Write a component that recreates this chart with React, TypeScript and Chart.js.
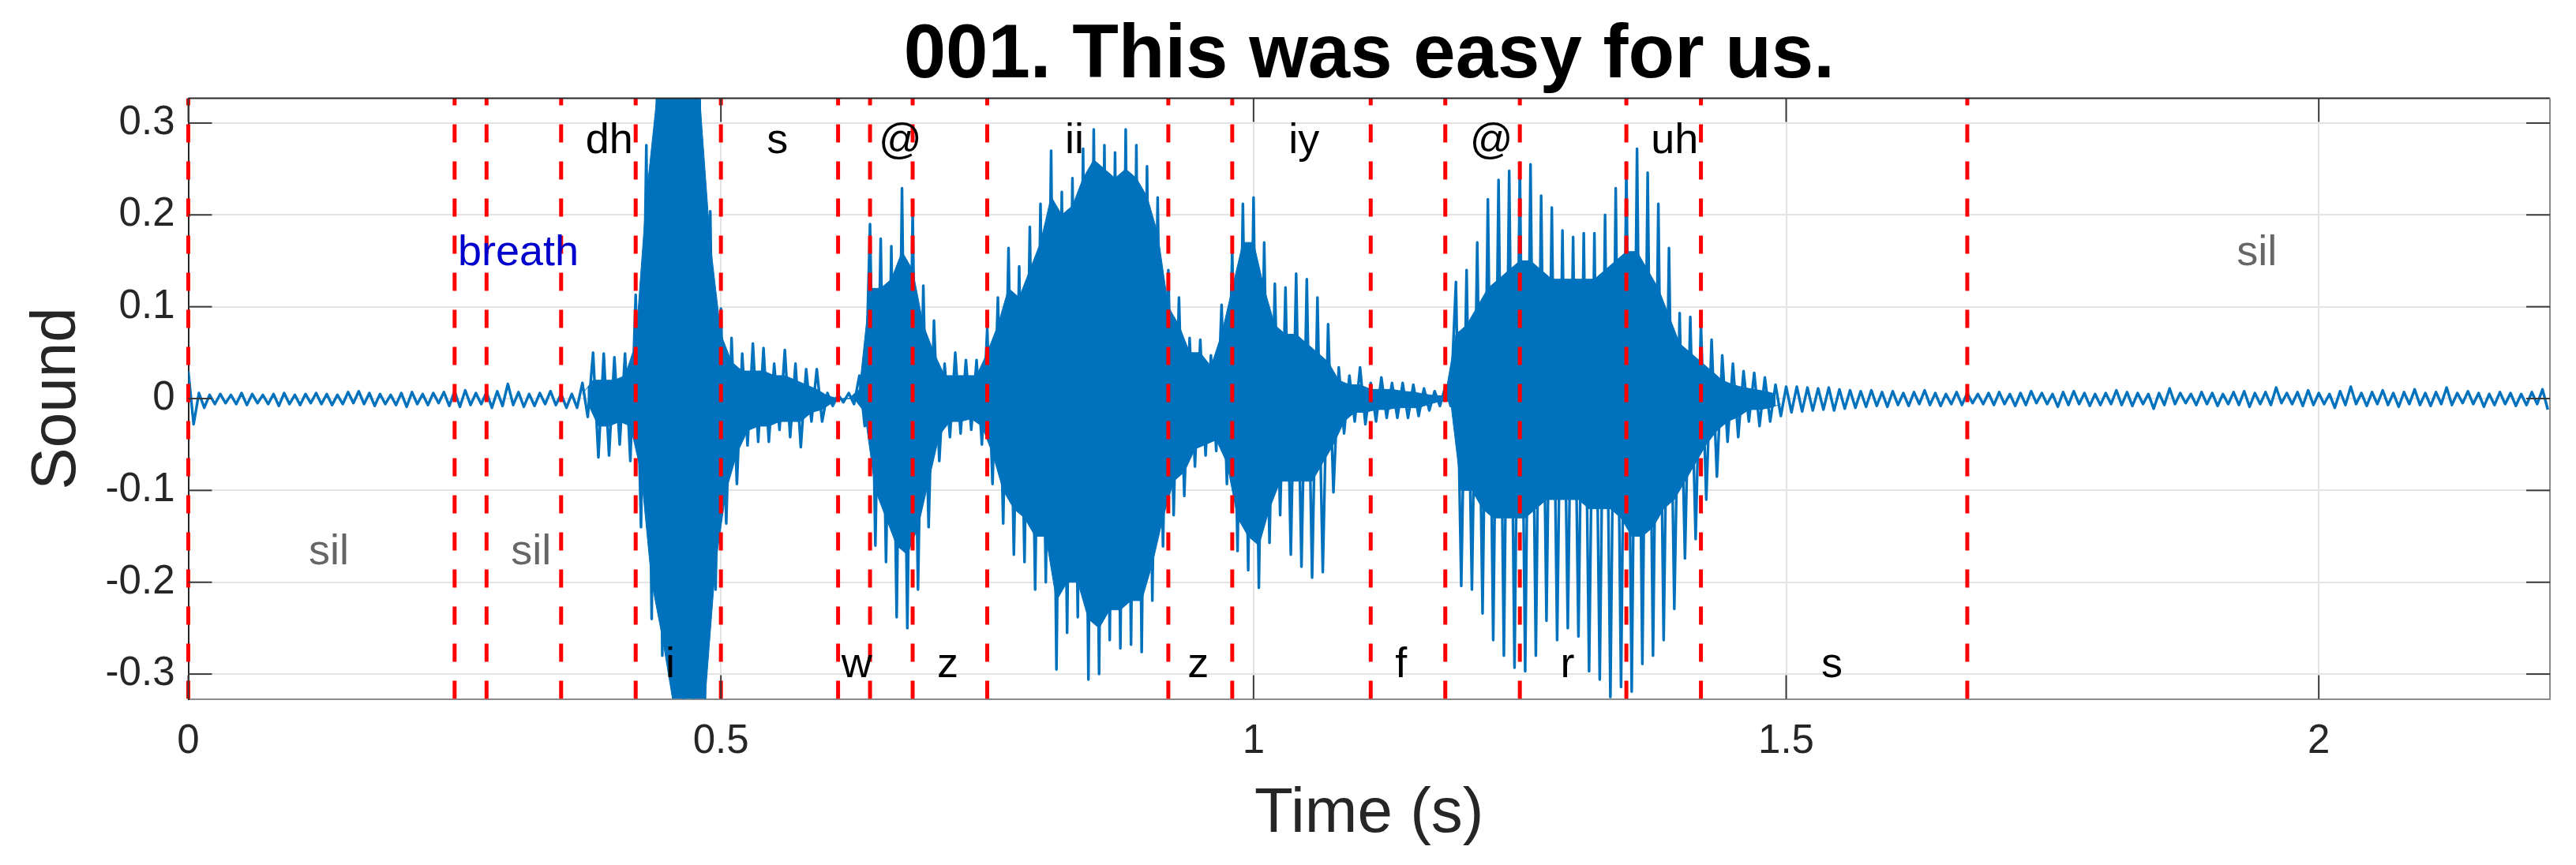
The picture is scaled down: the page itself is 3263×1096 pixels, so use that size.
import React, { useEffect, useRef } from 'react';
import { Chart, registerables } from 'chart.js';

Chart.register(...registerables);

// ---------------- data ----------------
const TITLE = '001. This was easy for us.';
const X_LABEL = 'Time (s)';
const Y_LABEL = 'Sound';
const X_MAX = 2.217;
const Y_LIM = 0.327;

const xTickValues = [0, 0.5, 1, 1.5, 2];
const xTickLabels = ['0', '0.5', '1', '1.5', '2'];
const yTickValues = [-0.3, -0.2, -0.1, 0, 0.1, 0.2, 0.3];
const yTickLabels = ['-0.3', '-0.2', '-0.1', '0', '0.1', '0.2', '0.3'];

// phone segmentation (s)
const segBounds = [0, 0.25, 0.28, 0.35, 0.42, 0.5, 0.61, 0.64, 0.68, 0.75, 0.92, 0.98, 1.11, 1.18, 1.25, 1.35, 1.42, 1.67, 2.2];
const segLabels = ['sil', 'breath', 'sil', 'dh', 'i', 's', 'w', '@', 'z', 'ii', 'z', 'iy', 'f', '@', 'r', 'uh', 's', 'sil'];

// waveform peaks, one max/min pair per 10 ms bin (from t = 0)
const BIN = 0.01;
const envHigh = [
  0.030, 0.006, 0.004, 0.005, 0.004, 0.006, 0.005, 0.004, 0.005, 0.006,
  0.004, 0.005, 0.006, 0.005, 0.004, 0.007, 0.008, 0.006, 0.005, 0.004,
  0.006, 0.007, 0.005, 0.006, 0.007, 0.008, 0.009, 0.006, 0.007, 0.008,
  0.016, 0.007, 0.005, 0.006, 0.008,
  0.005, 0.005, 0.017, 0.050, 0.049, 0.045, 0.049, 0.113, 0.276, 0.330,
  0.330, 0.330, 0.330, 0.330, 0.204, 0.098, 0.066, 0.049, 0.060, 0.055,
  0.038, 0.053, 0.038, 0.032, 0.032, 0.006, 0.004, 0.006, 0.025, 0.190,
  0.174, 0.166, 0.229, 0.204, 0.123, 0.085, 0.038, 0.050, 0.042, 0.042,
  0.076, 0.110, 0.164, 0.144, 0.187,
  0.212, 0.270, 0.225, 0.240, 0.272, 0.293, 0.276, 0.268, 0.293, 0.276,
  0.253, 0.219, 0.140, 0.110, 0.066, 0.064, 0.047, 0.102, 0.161, 0.212,
  0.219, 0.170, 0.125, 0.121, 0.136, 0.130, 0.110, 0.081, 0.034, 0.025,
  0.034, 0.017, 0.023, 0.017, 0.017, 0.015, 0.011, 0.008, 0.013, 0.127,
  0.140, 0.170, 0.217, 0.238, 0.248, 0.257, 0.255, 0.221, 0.208, 0.183,
  0.176, 0.180, 0.180, 0.200, 0.229, 0.257, 0.272, 0.246, 0.212, 0.164,
  0.093, 0.089, 0.081, 0.064, 0.047, 0.038, 0.030, 0.028, 0.023, 0.015,
  0.013, 0.013, 0.012, 0.011, 0.012, 0.010, 0.009, 0.008, 0.009, 0.007,
  0.008, 0.006, 0.007, 0.009, 0.006, 0.005, 0.007, 0.006, 0.005, 0.006,
  0.007, 0.005, 0.006, 0.008, 0.006, 0.005, 0.007, 0.008, 0.006, 0.005,
  0.006, 0.009, 0.007, 0.006, 0.005, 0.006, 0.011, 0.006, 0.005, 0.007,
  0.006, 0.005, 0.007, 0.008, 0.006, 0.007, 0.012, 0.006, 0.007, 0.009,
  0.006, 0.005, 0.008, 0.013, 0.006, 0.007, 0.009, 0.006, 0.007, 0.010,
  0.006, 0.007, 0.012, 0.006, 0.008, 0.006, 0.005, 0.007, 0.006, 0.005,
  0.007, 0.010,
];
const envLow = [
  -0.028, -0.010, -0.006, -0.005, -0.006, -0.007, -0.005, -0.006, -0.008, -0.006,
  -0.007, -0.005, -0.006, -0.007, -0.006, -0.005, -0.006, -0.008, -0.006, -0.007,
  -0.009, -0.006, -0.007, -0.005, -0.008, -0.009, -0.007, -0.006, -0.010, -0.008,
  -0.007, -0.009, -0.008, -0.006, -0.007,
  -0.010, -0.010, -0.020, -0.064, -0.062, -0.050, -0.068, -0.140, -0.240, -0.280,
  -0.320, -0.330, -0.330, -0.330, -0.208, -0.136, -0.093, -0.051, -0.047, -0.047,
  -0.034, -0.042, -0.053, -0.025, -0.025, -0.008, -0.004, -0.006, -0.030, -0.160,
  -0.178, -0.238, -0.250, -0.208, -0.140, -0.068, -0.042, -0.038, -0.034, -0.050,
  -0.093, -0.136, -0.170, -0.178, -0.208,
  -0.200, -0.295, -0.255, -0.238, -0.306, -0.300, -0.263, -0.272, -0.268, -0.276,
  -0.220, -0.161, -0.127, -0.106, -0.074, -0.062, -0.057, -0.093, -0.166, -0.187,
  -0.206, -0.157, -0.127, -0.170, -0.183, -0.195, -0.189, -0.102, -0.038, -0.025,
  -0.028, -0.025, -0.021, -0.021, -0.021, -0.019, -0.013, -0.008, -0.008, -0.204,
  -0.208, -0.234, -0.263, -0.280, -0.293, -0.297, -0.280, -0.242, -0.263, -0.250,
  -0.259, -0.297, -0.306, -0.325, -0.314, -0.319, -0.289, -0.280, -0.263, -0.229,
  -0.174, -0.153, -0.110, -0.085, -0.047, -0.042, -0.025, -0.030, -0.025, -0.019,
  -0.015, -0.014, -0.013, -0.012, -0.013, -0.011, -0.010, -0.009, -0.008, -0.009,
  -0.007, -0.008, -0.006, -0.007, -0.008, -0.006, -0.007, -0.005, -0.006, -0.007,
  -0.006, -0.008, -0.007, -0.005, -0.006, -0.009, -0.007, -0.006, -0.008, -0.007,
  -0.006, -0.007, -0.008, -0.006, -0.011, -0.007, -0.006, -0.005, -0.007, -0.006,
  -0.008, -0.006, -0.007, -0.009, -0.006, -0.007, -0.005, -0.006, -0.008, -0.007,
  -0.006, -0.010, -0.007, -0.006, -0.008, -0.006, -0.007, -0.009, -0.006, -0.007,
  -0.008, -0.006, -0.007, -0.005, -0.006, -0.009, -0.007, -0.006, -0.008, -0.007,
  -0.006, -0.012,
];

// dense (solid) core of the voiced part, per 10 ms bin, starting at bin 37 (0.37 s)
const CORE_START_BIN = 37;
const coreHigh = [
  0.005, 0.020, 0.020, 0.020, 0.025, 0.060, 0.220, 0.330, 0.330, 0.330,
  0.330, 0.330, 0.170, 0.070, 0.040, 0.030, 0.030, 0.030, 0.025, 0.025,
  0.020, 0.015, 0.010, 0.003, 0.000, 0.000, 0.010, 0.120, 0.120, 0.130,
  0.160, 0.140, 0.080, 0.050, 0.025, 0.025, 0.025, 0.025, 0.050, 0.080,
  0.120, 0.110, 0.140, 0.170, 0.220, 0.200, 0.210, 0.240, 0.260, 0.250,
  0.240, 0.250, 0.240, 0.220, 0.180, 0.100, 0.080, 0.050, 0.050, 0.035,
  0.070, 0.120, 0.170, 0.170, 0.120, 0.080, 0.070, 0.070, 0.060, 0.050,
  0.040, 0.020, 0.015, 0.015, 0.010, 0.010, 0.010, 0.008, 0.007, 0.005,
  0.003, 0.003, 0.070, 0.080, 0.100, 0.120, 0.130, 0.140, 0.150, 0.150,
  0.140, 0.130, 0.130, 0.130, 0.130, 0.130, 0.140, 0.150, 0.160, 0.160,
  0.140, 0.120, 0.090, 0.060, 0.050, 0.040, 0.030, 0.020, 0.015, 0.012,
  0.010, 0.008, 0.005,
];
const coreLow = [
  -0.005, -0.030, -0.030, -0.025, -0.030, -0.080, -0.200, -0.260, -0.330, -0.330,
  -0.330, -0.330, -0.180, -0.100, -0.060, -0.035, -0.030, -0.030, -0.025, -0.025,
  -0.025, -0.015, -0.012, -0.004, 0.000, 0.000, -0.015, -0.100, -0.130, -0.160,
  -0.170, -0.140, -0.090, -0.040, -0.025, -0.025, -0.022, -0.030, -0.060, -0.100,
  -0.120, -0.130, -0.150, -0.150, -0.220, -0.200, -0.200, -0.240, -0.250, -0.230,
  -0.230, -0.220, -0.220, -0.180, -0.130, -0.090, -0.080, -0.055, -0.050, -0.045,
  -0.070, -0.130, -0.150, -0.160, -0.120, -0.090, -0.090, -0.090, -0.090, -0.070,
  -0.050, -0.025, -0.015, -0.015, -0.012, -0.012, -0.010, -0.010, -0.010, -0.006,
  -0.003, -0.003, -0.100, -0.100, -0.120, -0.130, -0.130, -0.130, -0.130, -0.120,
  -0.110, -0.110, -0.110, -0.110, -0.120, -0.120, -0.120, -0.130, -0.150, -0.150,
  -0.140, -0.120, -0.110, -0.090, -0.070, -0.050, -0.035, -0.025, -0.020, -0.012,
  -0.012, -0.010, -0.006,
];

// ---------------- styling ----------------
const FONT = "'Liberation Sans', Arial, Helvetica, sans-serif";
const BLUE = '#0072BD';
const AXIS_DARK = '#262626';
const AXIS_GRAY = '#8c8c8c';
const GRID = '#e3e3e3';

const W = 3263;
const H = 1096;

const decorPlugin = {
  id: 'decor',
  afterDatasetsDraw(chart: any) {
    const { ctx, chartArea: a, scales } = chart;
    const x = scales.x;
    const y = scales.y;
    ctx.save();
    const line = (x1: number, y1: number, x2: number, y2: number) => {
      ctx.beginPath();
      ctx.moveTo(x1, y1);
      ctx.lineTo(x2, y2);
      ctx.stroke();
    };
    ctx.lineWidth = 2;
    ctx.strokeStyle = AXIS_DARK;
    line(a.left, a.top, a.right, a.top);
    ctx.strokeStyle = AXIS_GRAY;
    line(a.right, a.top, a.right, a.bottom);
    // inner tick marks
    const TL = 30;
    ctx.strokeStyle = '#3a3a3a';
    yTickValues.forEach((v) => {
      const py = y.getPixelForValue(v);
      line(a.left, py, a.left + TL, py);
      line(a.right - TL, py, a.right, py);
    });
    xTickValues.forEach((v) => {
      const px = x.getPixelForValue(v);
      line(px, a.bottom, px, a.bottom - TL);
      line(px, a.top, px, a.top + TL);
    });
    // phone labels
    ctx.font = `54px ${FONT}`;
    ctx.textAlign = 'left';
    ctx.textBaseline = 'alphabetic';
    segLabels.forEach((lab, i) => {
      const mid = (segBounds[i] + segBounds[i + 1]) / 2;
      const quiet = lab === 'sil' || lab === 'breath';
      const up = i % 2 === 1;
      const yv = quiet ? (up ? 0.1449 : -0.1807) : up ? 0.2674 : -0.3034;
      ctx.fillStyle = lab === 'breath' ? '#0000cc' : lab === 'sil' ? '#666666' : '#000000';
      ctx.fillText(lab, x.getPixelForValue(mid - 0.012), y.getPixelForValue(yv));
    });
    ctx.restore();
  },
  afterDraw(chart: any) {
    const { ctx, chartArea: a } = chart;
    const cx = (a.left + a.right) / 2;
    ctx.save();
    ctx.textAlign = 'center';
    ctx.textBaseline = 'alphabetic';
    ctx.fillStyle = '#000000';
    ctx.font = `bold 96px ${FONT}`;
    ctx.fillText(TITLE, cx, 98);
    ctx.fillStyle = AXIS_DARK;
    ctx.font = `80px ${FONT}`;
    ctx.fillText(X_LABEL, cx, 1054);
    ctx.translate(95, (a.top + a.bottom) / 2);
    ctx.rotate(-Math.PI / 2);
    ctx.fillText(Y_LABEL, 0, 0);
    ctx.restore();
  },
};

export default function App() {
  const ref = useRef<HTMLCanvasElement>(null);
  useEffect(() => {
    document.body.style.margin = '0';
    const canvas = ref.current;
    if (!canvas) return;

    // zig-zag between each bin's peak and trough
    const wavePoints: { x: number; y: number }[] = [];
    for (let i = 0; i < envHigh.length; i++) {
      wavePoints.push({ x: i * BIN, y: envHigh[i] });
      wavePoints.push({ x: i * BIN + BIN / 2, y: envLow[i] });
    }
    const coreTop = coreHigh.map((v, k) => ({ x: (CORE_START_BIN + k) * BIN, y: v }));
    const coreBottom = coreLow.map((v, k) => ({ x: (CORE_START_BIN + k) * BIN + BIN / 2, y: v }));

    const boundaryDatasets = segBounds.slice(0, segLabels.length).map((b) => ({
      data: [
        { x: b, y: -Y_LIM },
        { x: b, y: Y_LIM },
      ],
      borderColor: '#ff0000',
      borderWidth: 5,
      borderDash: [23, 24],
      borderCapStyle: 'butt',
      pointRadius: 0,
      fill: false,
      order: 0,
      clip: { left: 6, right: 6, top: 0, bottom: 0 },
    }));

    const chart = new Chart(canvas, {
      type: 'line',
      data: {
        datasets: [
          ...boundaryDatasets,
          {
            data: wavePoints,
            borderColor: BLUE,
            borderWidth: 3.4,
            borderJoinStyle: 'round',
            pointRadius: 0,
            tension: 0,
            fill: false,
            order: 1,
            clip: 0,
          },
          {
            data: coreTop,
            borderColor: BLUE,
            backgroundColor: BLUE,
            borderWidth: 1,
            pointRadius: 0,
            tension: 0,
            fill: '+1',
            order: 2,
            clip: 0,
          },
          {
            data: coreBottom,
            borderColor: BLUE,
            backgroundColor: BLUE,
            borderWidth: 1,
            pointRadius: 0,
            tension: 0,
            fill: false,
            order: 3,
            clip: 0,
          },
        ] as any,
      },
      options: {
        animation: false,
        responsive: false,
        maintainAspectRatio: false,
        devicePixelRatio: 1,
        events: [],
        layout: { padding: { top: 124.5, right: 33, left: 0, bottom: 0 } },
        plugins: {
          legend: { display: false },
          tooltip: { enabled: false },
          title: { display: false },
          filler: { propagate: false, drawTime: 'beforeDatasetDraw' },
        },
        scales: {
          x: {
            type: 'linear',
            min: 0,
            max: X_MAX,
            afterFit: (s: any) => {
              s.height = H - 885.5;
            },
            afterBuildTicks: (s: any) => {
              s.ticks = xTickValues.map((v) => ({ value: v }));
            },
            ticks: {
              autoSkip: false,
              maxRotation: 0,
              padding: 24,
              color: AXIS_DARK,
              font: { family: FONT, size: 51 },
              callback: (_v: any, i: number) => xTickLabels[i],
            },
            grid: { color: GRID, lineWidth: 2, drawTicks: false },
            border: { display: true, color: AXIS_GRAY, width: 2 },
          },
          y: {
            type: 'linear',
            min: -Y_LIM,
            max: Y_LIM,
            afterFit: (s: any) => {
              s.width = 238.5;
            },
            afterBuildTicks: (s: any) => {
              s.ticks = yTickValues.map((v) => ({ value: v }));
            },
            ticks: {
              autoSkip: false,
              padding: 17,
              color: AXIS_DARK,
              font: { family: FONT, size: 51 },
              callback: (_v: any, i: number) => yTickLabels[i],
            },
            grid: { color: GRID, lineWidth: 2, drawTicks: false },
            border: { display: true, color: AXIS_DARK, width: 2 },
          },
        },
      } as any,
      plugins: [decorPlugin],
    });
    return () => chart.destroy();
  }, []);

  return (
    <div style={{ width: W, height: H, background: '#ffffff' }}>
      <canvas ref={ref} width={W} height={H} style={{ display: 'block', width: W, height: H }} />
    </div>
  );
}
